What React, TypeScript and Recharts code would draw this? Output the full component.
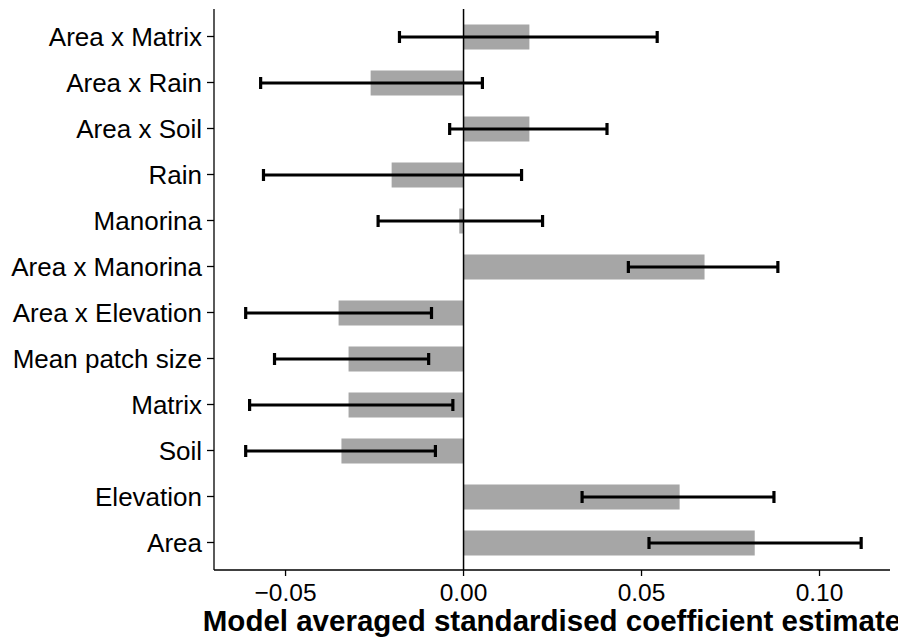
import { BarChart, Bar, XAxis, YAxis, ErrorBar, ReferenceLine } from "recharts";

// terms, top to bottom as they appear on the chart
const terms = [
  "Area x Matrix",
  "Area x Rain",
  "Area x Soil",
  "Rain",
  "Manorina",
  "Area x Manorina",
  "Area x Elevation",
  "Mean patch size",
  "Matrix",
  "Soil",
  "Elevation",
  "Area",
];

const estimates = [0.0185, -0.0261, 0.0185, -0.0202, -0.0012, 0.0677, -0.0351, -0.0323, -0.0323, -0.0343, 0.0607, 0.0818];
const lower = [-0.018, -0.057, -0.0039, -0.0562, -0.024, 0.0463, -0.0612, -0.0531, -0.0601, -0.0612, 0.0333, 0.0521];
const upper = [0.0544, 0.0053, 0.0403, 0.0163, 0.0222, 0.0883, -0.009, -0.0098, -0.003, -0.0079, 0.0872, 0.1117];

const xTicks = [-0.05, 0, 0.05, 0.1];

const FONT = "'Liberation Sans', Arial, sans-serif";

const rows = terms.map((term, i) => ({
  term,
  est: estimates[i],
  // ErrorBar wants distances from the estimate: [below, above]
  err: [estimates[i] - lower[i], upper[i] - estimates[i]],
}));

const fmt = (v: number) => {
  const s = Math.abs(v).toFixed(2);
  return v < 0 ? "\u2212" + s : s;
};

export default function App() {
  return (
    <div style={{ fontFamily: FONT }}>
      <BarChart
        width={898}
        height={632}
        data={rows}
        layout="vertical"
        margin={{ top: 1, right: 16, bottom: 0, left: 0 }}
      >
        <XAxis
          type="number"
          domain={[-0.0701, 0.1198]}
          ticks={xTicks}
          tickFormatter={fmt}
          allowDataOverflow
          height={70}
          stroke="#000"
          strokeWidth={1.3}
          tickSize={6}
          tickMargin={8}
          tick={{ fill: "#000", fontSize: 24.5, fontFamily: FONT }}
          label={{
            value: "Model averaged standardised coefficient estimate",
            position: "insideBottom",
            offset: 9,
            style: { fill: "#000", fontSize: 29.5, fontWeight: 700, fontFamily: FONT },
          }}
        />
        <YAxis
          type="category"
          dataKey="term"
          width={206}
          padding={{ top: 4.5, bottom: 4.5 }}
          stroke="#000"
          strokeWidth={1.3}
          tickSize={7}
          tickMargin={5}
          interval={0}
          tick={{ fill: "#000", fontSize: 26, fontFamily: FONT }}
        />
        <Bar dataKey="est" fill="#a6a6a6" barSize={25} isAnimationActive={false}>
          <ErrorBar dataKey="err" direction="x" width={6} stroke="#000" strokeWidth={3.2} />
        </Bar>
        <ReferenceLine x={0} stroke="#000" strokeWidth={1.5} />
      </BarChart>
    </div>
  );
}
